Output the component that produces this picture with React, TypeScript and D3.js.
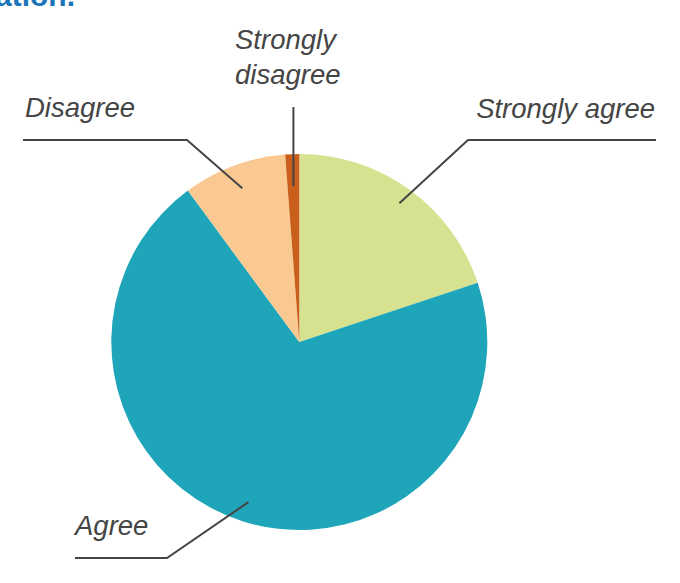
import React from "react";
import * as d3 from "d3";

const categories = ["Strongly agree", "Agree", "Disagree", "Strongly disagree"];
const values = [19.9, 70.0, 8.9, 1.2];
const colors = ["#d6e28f", "#1fa5b9", "#f9c991", "#c8601c"];

// label layout (annotation positions)
const labelLines: string[][] = [["Strongly agree"], ["Agree"], ["Disagree"], ["Strongly", "disagree"]];
const labelPos = [
  { tx: 655, ty: 118, anchor: "end", elbow: [468, 140], end: [656, 140] },
  { tx: 75, ty: 535, anchor: "start", elbow: [167, 558], end: [75, 558] },
  { tx: 25, ty: 117, anchor: "start", elbow: [187, 140], end: [23, 140] },
  { tx: 235, ty: 49, anchor: "start", elbow: null, end: [294, 107] },
];

const W = 680;
const H = 583;
const cx = 299.3;
const cy = 342;
const R = 188;

export default function App() {
  const pie = d3.pie<number>().sort(null).value((d) => d);
  const arcs = pie(values);
  const arc = d3.arc<d3.PieArcDatum<number>>().innerRadius(0).outerRadius(R);
  const inner = d3.arc<d3.PieArcDatum<number>>().innerRadius(164).outerRadius(164);
  const radii = [171, 168, 164, 156];

  return (
    <svg width={W} height={H} style={{ position: "absolute", left: 0, top: 0, background: "#fff" }}>
      <text x={75} y={6} textAnchor="end" fontFamily="Liberation Sans, Arial, sans-serif" fontWeight="bold" fontSize={30} fill="#1a75bb">
        mation.
      </text>
      <g transform={`translate(${cx},${cy})`}>
        {arcs.map((a, i) => (
          <path key={i} d={arc(a) || ""} fill={colors[i]} />
        ))}
      </g>
      {arcs.map((a, i) => {
        const mid = (a.startAngle + a.endAngle) / 2;
        const r = radii[i];
        const sx = cx + Math.sin(mid) * r;
        const sy = cy - Math.cos(mid) * r;
        const p = labelPos[i];
        const pts: number[][] = [[sx, sy]];
        if (p.elbow) pts.push(p.elbow);
        if (p.elbow) pts.push(p.end);
        else pts.push([sx, p.end[1]]);
        const line = d3.line()(pts as [number, number][]) || "";
        return (
          <g key={i}>
            <path d={line} fill="none" stroke="#454545" strokeWidth={2} />
            <text
              x={p.tx}
              y={p.ty}
              textAnchor={p.anchor as any}
              fontFamily="Liberation Sans, Arial, sans-serif"
              fontStyle="italic"
              fontSize={27.5}
              fill="#454545"
            >
              {labelLines[i].map((t, j) => (
                <tspan key={j} x={p.tx} dy={j === 0 ? 0 : 35}>
                  {t}
                </tspan>
              ))}
            </text>
          </g>
        );
      })}
    </svg>
  );
}
